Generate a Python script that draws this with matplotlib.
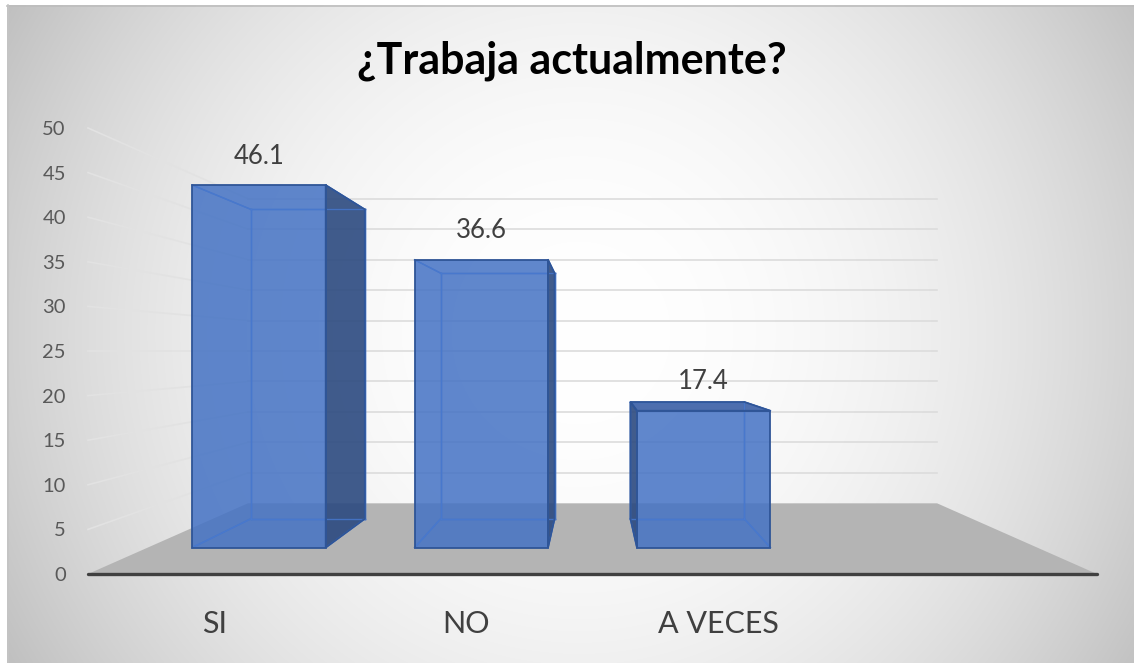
import numpy as np
import matplotlib
matplotlib.use("Agg")
import matplotlib.pyplot as plt
from matplotlib.patches import Polygon

# ---------------- data ----------------
title = "¿Trabaja actualmente?"
categories = ["SI", "NO", "A VECES"]
values = [46.1, 36.6, 17.4]
y_ticks = [0, 5, 10, 15, 20, 25, 30, 35, 40, 45, 50]

plt.rcParams['font.family'] = ['Lato', 'DejaVu Sans']

W, H = 1134, 663
fig = plt.figure(figsize=(W / 100, H / 100), dpi=100)
fig.patch.set_facecolor('white')

# ---------------- background (radial gray gradient) ----------------
bg = fig.add_axes([0, 0, 1, 1], zorder=0)
bg.set_xlim(0, W)
bg.set_ylim(H, 0)
bg.axis('off')
yy, xx = np.mgrid[0:H, 0:W]
d = np.hypot(xx - 575, yy - 330)
val = 255 - 57 * (d / 631.0) ** 2.1
val = np.clip(val, 190, 255) / 255.0
img = np.dstack([val, val, val])
bg.imshow(img, extent=(7, W, H, 5), aspect='auto', interpolation='bilinear')
bg.plot([7, W], [5.5, 5.5], color='#bdbdbd', lw=1.2)
bg.plot([7.5, 7.5], [5, H], color='#c4c4c4', lw=1.2)
bg.set_xlim(0, W)
bg.set_ylim(H, 0)

# ---------------- main "3D" axes ----------------
n_slots = len(categories) + 1          # Excel keeps an empty slot on the right
left_px, right_px = 88, 1097
zero_px, top_px = 574, 128
ax = fig.add_axes([left_px / W, (H - zero_px) / H,
                   (right_px - left_px) / W, (zero_px - top_px) / H], zorder=1)
ax.set_xlim(0, n_slots)
ax.set_ylim(0, 50)
ax.patch.set_alpha(0)
for s in ax.spines.values():
    s.set_visible(False)

VX, VY, K = n_slots / 2.0, 25.0, 0.464


def proj(x, y, z):
    f = 1.0 / (1.0 + K * z)
    return VX + (x - VX) * f, VY + (y - VY) * f


grid_c = '#dcdcdc'
# side-wall and back-wall gridlines
for v in y_ticks[1:]:
    p0 = proj(0, v, 0)
    p1 = proj(0, v, 1)
    p2 = proj(n_slots, v, 1)
    ax.plot([p0[0], p1[0]], [p0[1], p1[1]], color='#e2e2e2', lw=1.2, zorder=1, clip_on=False)
    ax.plot([p1[0], p2[0]], [p1[1], p2[1]], color=grid_c, lw=1.2, zorder=1, clip_on=False)

# floor
floor = [proj(0, 0, 0), proj(n_slots, 0, 0), proj(n_slots, 0, 1), proj(0, 0, 1)]
ax.add_patch(Polygon(floor, closed=True, facecolor='#b4b4b4', edgecolor='none', zorder=2, clip_on=False))
ax.plot([0, n_slots], [0, 0], color='#404040', lw=2.4, zorder=3, clip_on=False, solid_capstyle='round')

# bars
half_w = 0.3
z0, z1 = 0.29, 0.71
edge_c = '#2f5597'
for i, v in enumerate(values):
    xc = i + 0.5
    x0, x1 = xc - half_w, xc + half_w
    C = {}
    for xi, xn in ((x0, 'l'), (x1, 'r')):
        for yi, yn in ((0, 'b'), (v, 't')):
            for zi, zn in ((z0, 'f'), (z1, 'k')):
                C[xn + yn + zn] = proj(xi, yi, zi)
    # hidden (see-through) edges
    hidden = [('lbk', 'rbk'), ('rbk', 'rtk'), ('rtk', 'ltk'), ('ltk', 'lbk'),
              ('lbf', 'lbk'), ('rbf', 'rbk'), ('ltf', 'ltk'), ('rtf', 'rtk')]
    for a, b in hidden:
        ax.plot([C[a][0], C[b][0]], [C[a][1], C[b][1]], color='#3f6fc6', lw=1.0,
                zorder=4, clip_on=False)
    faces = []
    # side faces
    if x1 < VX:
        faces.append(([C['rbf'], C['rbk'], C['rtk'], C['rtf']], '#2c4a80', 0.9))
    if x0 > VX:
        faces.append(([C['lbf'], C['lbk'], C['ltk'], C['ltf']], '#2c4a80', 0.9))
    # top face
    if v < VY:
        faces.append(([C['ltf'], C['rtf'], C['rtk'], C['ltk']], '#3a5fa6', 0.9))
    for pts, col, al in faces:
        ax.add_patch(Polygon(pts, closed=True, facecolor=col, alpha=al, edgecolor='none',
                             zorder=5, clip_on=False))
        ax.add_patch(Polygon(pts, closed=True, facecolor='none', edgecolor=edge_c, lw=1.3,
                             zorder=7, clip_on=False))
    # front face
    front = [C['lbf'], C['rbf'], C['rtf'], C['ltf']]
    ax.add_patch(Polygon(front, closed=True, facecolor='#4472c4', alpha=0.85, edgecolor='none',
                         zorder=6, clip_on=False))
    # redraw back edges faintly through front face
    for a, b in hidden:
        ax.plot([C[a][0], C[b][0]], [C[a][1], C[b][1]], color='#4a7bd0', lw=1.0, alpha=0.8,
                zorder=6.5, clip_on=False)
    ax.add_patch(Polygon(front, closed=True, facecolor='none', edgecolor=edge_c, lw=1.3,
                         zorder=7, clip_on=False))
    # value label
    lx, ly = proj(xc, v, z0)
    ax.annotate(f"{v:.1f}", (lx, ly), xytext=(0, 29), textcoords='offset pixels',
                ha='center', va='center', fontsize=18.5, color='#404040', zorder=8,
                annotation_clip=False)

# axis labels
ax.set_yticks(y_ticks)
ax.set_yticklabels([str(t) for t in y_ticks], fontsize=14.5, color='#595959')
ax.tick_params(axis='y', length=0, pad=16)
ax.set_xticks([i + 0.5 for i in range(len(categories))])
ax.set_xticklabels(categories, fontsize=22, color='#404040')
ax.tick_params(axis='x', length=0, pad=26)

fig.text(572 / W, 1 - 61 / H, title, ha='center', va='center', fontsize=31,
         fontweight='bold', color='#000000', zorder=10)

fig.savefig('out.png', dpi=100)
